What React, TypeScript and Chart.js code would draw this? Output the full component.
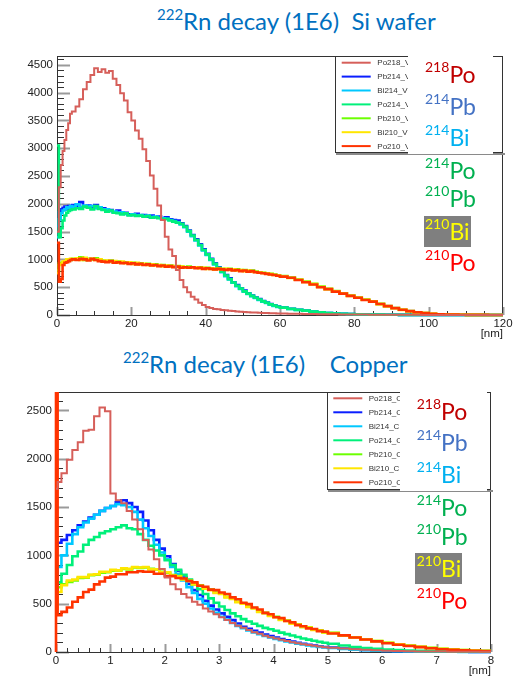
import React, { useEffect, useRef } from "react";
import { Chart, registerables } from "chart.js";
Chart.register(...registerables);

// ---------- Si wafer (top) : bin edges in nm ----------
const wX = [0,0.5,1,1.5,2,2.5,3,3.5,4,
  5,6,7,8,9,10,11,12,13,14,15,16,17,18,19,20,21,22,23,24,25,26,27,28,29,30,31,32,33,34,35,36,37,38,39,40,41,42,43,44,45,46,47,48,49,50,51,52,53,54,55,56,57,58,59,60,
  62,64,66,68,70,72,74,76,78,80,82,84,86,88,90,92,94,96,98,100,102,104,106,108,110,112,114,116,118,120];

const wPo218 = [1500,2300,2700,2950,3150,3330,3450,3620,3660,
  3750,3880,4060,4190,4320,4440,4370,4420,4360,4390,
  4250,4140,3990,3860,3650,3500,3320,3170,2980,2770,
  2510,2270,1970,1710,1410,1180,1060,810,630,500,
  410,330,280,220,180,145,128,110,102,90,
  86,76,71,63,59,52,50,45,44,39,
  38,34,33,30,29,27,
  24,22,19,17,15,13,12,10,9,8,7,6,5,5,4,4,3,3,2,2,2,1,1,1,1,1,1,0,0,0];
const wPb214 = [1600,1850,1900,1930,1950,1900,1960,1940,1980,
  1960,2030,1950,1970,1940,1980,1930,1920,1880,1890,
  1850,1880,1830,1840,1810,1800,1820,1790,1800,1770,
  1790,1760,1770,1740,1760,1720,1710,1700,1650,1600,
  1520,1440,1360,1270,1180,1100,1010,930,860,790,
  720,660,590,540,480,440,390,350,315,285,
  250,225,195,175,150,135,
  112,95,80,62,46,36,28,22,17,13,10,8,6,5,4,3,3,2,2,1,1,1,1,1,0,0,0,0,0,0];
const wBi214 = [1400,1720,1830,1880,1900,1940,1920,1960,1950,
  1990,1940,1970,1950,1960,1920,1940,1900,1900,1870,
  1860,1840,1850,1820,1800,1810,1790,1800,1780,1790,
  1760,1770,1750,1740,1730,1710,1690,1670,1630,1580,
  1500,1420,1340,1250,1160,1080,990,910,840,770,
  700,640,580,520,470,420,380,340,305,270,
  240,215,190,165,145,130,
  108,90,76,60,45,35,27,21,16,12,9,7,6,5,4,3,2,2,1,1,1,1,1,0,0,0,0,0,0,0];
const wPo214 = [3050,1400,1560,1700,1790,1840,1870,1890,1900,
  1920,1910,1950,1930,1900,1960,1910,1890,1860,1880,
  1840,1830,1810,1830,1790,1800,1780,1790,1770,1780,
  1750,1760,1740,1720,1730,1700,1680,1660,1640,1590,
  1510,1430,1350,1260,1170,1090,1000,920,850,780,
  710,645,585,525,475,425,385,345,310,280,
  245,220,192,170,148,132,
  110,92,78,61,47,36,28,21,16,12,9,7,6,5,4,3,3,2,2,1,1,1,1,1,0,0,0,0,0,0];
const wPb210 = [800,930,940,950,960,980,1000,990,1010,
  1000,1040,990,1010,1000,1020,990,980,960,980,
  950,960,940,950,930,940,920,930,910,920,
  900,910,890,900,880,890,870,880,870,860,
  870,860,850,860,840,850,840,830,840,830,
  820,830,810,820,800,810,790,800,780,770,
  760,750,740,730,715,700,
  675,640,600,560,510,470,430,390,350,315,280,245,200,160,125,95,70,50,35,22,14,9,6,4,3,2,2,1,1,1];
const wBi210 = [750,900,920,960,970,1000,990,1010,1000,
  1020,990,1030,1000,1010,990,1000,970,980,960,
  970,940,960,930,950,920,940,910,920,900,
  910,890,900,880,890,870,880,860,870,850,
  860,850,860,840,850,830,840,820,830,820,
  830,810,820,800,810,790,800,780,775,765,
  755,745,735,720,710,695,
  665,635,595,555,505,465,425,385,345,310,275,240,195,158,122,92,68,48,33,21,13,8,6,4,3,2,1,1,1,1];
const wPo210 = [1300,600,650,900,940,950,970,990,1000,
  990,1010,1000,980,1010,990,970,960,950,970,
  940,950,930,940,920,930,910,920,900,910,
  890,900,880,890,870,880,860,870,850,860,
  850,860,840,850,830,840,830,820,830,820,
  810,820,800,810,790,800,780,790,770,760,
  750,740,730,720,705,690,
  670,630,590,550,500,465,420,385,345,310,270,240,198,160,124,94,69,49,34,22,14,9,6,4,3,2,2,1,1,1];

// ---------- Copper (bottom) : bin edges in nm ----------
const cuX = [0,0.03,
  0.1,0.2,0.3,0.4,0.5,0.6,0.7,0.8,0.9,1,
  1.1,1.2,1.3,1.4,1.5,1.6,1.7,1.8,1.9,2,
  2.1,2.2,2.3,2.4,2.5,2.6,2.7,2.8,2.9,3,
  3.1,3.2,3.3,3.4,3.5,3.6,3.7,3.8,3.9,4,
  4.1,4.2,4.3,4.4,4.5,4.6,4.7,4.8,4.9,5,
  5.2,5.4,5.6,5.8,6,6.2,6.4,6.6,6.8,7,7.2,7.4,7.6,7.8,8];

const cPo218 = [1690,1760,
  1850,1990,2090,2170,2290,2300,2440,2530,2490,1640,
  1570,1540,1460,1370,1270,1160,1060,960,860,770,
  700,650,600,565,520,490,450,420,390,360,
  330,300,272,250,228,205,188,168,152,140,
  126,114,101,91,81,72,64,57,50,45,
  36,28,22,17,13,10,8,6,5,4,3,3,2,2,1];
const cPb214 = [1100,1130,
  1160,1210,1260,1310,1350,1390,1420,1460,1490,1510,
  1550,1570,1540,1500,1450,1360,1260,1160,1070,990,
  910,840,770,705,640,590,530,480,440,400,
  365,330,295,262,240,220,200,180,165,150,
  135,120,108,96,85,75,66,58,51,45,
  35,27,21,16,12,9,7,5,4,3,2,2,1,1,1];
const cBi214 = [750,880,
  1000,1120,1220,1290,1340,1380,1420,1460,1490,1510,
  1530,1520,1500,1450,1370,1280,1200,1110,1030,960,
  880,810,740,670,610,550,500,450,405,365,
  335,300,270,245,222,202,183,165,150,136,
  122,110,98,87,77,68,60,53,47,41,
  31,23,18,14,10,7,5,4,3,2,2,1,1,1,1];
const cPo214 = [650,720,
  810,900,990,1040,1110,1160,1190,1230,1250,1270,
  1290,1310,1280,1270,1220,1160,1100,1050,1000,950,
  900,850,800,750,700,650,600,555,510,470,
  435,400,370,340,315,292,270,250,235,220,
  200,185,170,155,140,128,116,105,95,86,
  68,52,40,32,26,20,15,12,9,7,5,4,3,2,2];
const cPb210 = [640,670,
  700,725,740,765,770,795,800,820,825,840,
  840,860,855,875,870,875,860,855,830,820,
  795,785,755,740,705,690,660,645,615,605,
  570,555,520,505,470,455,420,405,375,365,
  335,325,295,287,260,255,230,225,203,198,
  172,152,132,114,96,80,66,54,43,34,27,21,16,12,9];
const cBi210 = [450,620,
  690,740,750,775,775,800,805,830,830,850,
  845,865,860,880,875,880,855,855,825,825,
  790,780,750,735,700,685,655,640,610,600,
  565,550,515,500,465,450,415,402,372,360,
  332,322,292,284,258,252,228,222,201,196,
  170,150,130,112,95,79,65,53,42,33,26,20,15,11,8];
const cPo210 = [6000,380,
  415,460,520,565,620,645,700,730,770,780,
  805,805,825,825,835,830,830,810,810,785,
  785,765,760,735,720,685,675,645,640,615,
  600,565,545,510,495,460,440,405,390,360,
  350,320,307,278,266,244,238,216,211,191,
  172,150,130,110,90,75,62,50,39,28,22,17,13,10,8];

const seriesColors = ["#d65f5a", "#0a1eff", "#00c8ff", "#00f07a", "#6cff00", "#ffe600", "#ff3300"];
const drawOrder = [0, 6, 5, 4, 3, 2, 1];
const waferLabels = ["Po218_V", "Pb214_V", "Bi214_V", "Po214_V", "Pb210_V", "Bi210_V", "Po210_V"];
const copperLabels = ["Po218_C", "Pb214_C", "Bi214_C", "Po214_C", "Pb210_C", "Bi210_C", "Po210_C"];
const waferSeries = [wPo218, wPb214, wBi214, wPo214, wPb210, wBi210, wPo210];
const copperSeries = [cPo218, cPb214, cBi214, cPo214, cPb210, cBi210, cPo210];

const isoLabels = [
  { mass: "218", el: "Po", color: "#c00000" },
  { mass: "214", el: "Pb", color: "#4472c4" },
  { mass: "214", el: "Bi", color: "#00b0f0" },
  { mass: "214", el: "Po", color: "#00b050" },
  { mass: "210", el: "Pb", color: "#00b050" },
  { mass: "210", el: "Bi", color: "#ffff00" },
  { mass: "210", el: "Po", color: "#ff0000" },
];

const AXIS_FONT = '"Liberation Sans", Arial, sans-serif';

const rootFrame = {
  id: "rootFrame",
  beforeDatasetsDraw(chart: any, _a: any, o: any) {
    const { ctx, chartArea: a, scales } = chart;
    const xs = scales.x, ys = scales.y;
    ctx.save();
    const nY = Math.floor(ys.max / o.yMinor + 1e-6);
    for (let i = 0; i <= nY; i++) {
      const v = i * o.yMinor;
      const major = Math.abs(v / o.yMajor - Math.round(v / o.yMajor)) < 1e-6;
      const p = Math.round(ys.getPixelForValue(v)) + 0.5;
      ctx.beginPath();
      ctx.strokeStyle = major ? "#9a9a9a" : "#333";
      ctx.lineWidth = major ? 2 : 1;
      ctx.moveTo(a.left, p);
      ctx.lineTo(a.left + (major ? 13 : 7), p);
      ctx.stroke();
    }
    const nX = Math.round(xs.max / o.xMinor);
    for (let i = 0; i <= nX; i++) {
      const v = i * o.xMinor;
      const major = Math.abs(v / o.xMajor - Math.round(v / o.xMajor)) < 1e-6;
      const p = Math.round(xs.getPixelForValue(v)) + 0.5;
      ctx.beginPath();
      ctx.strokeStyle = major ? "#9a9a9a" : "#333";
      ctx.lineWidth = major ? 2 : 1;
      ctx.moveTo(p, a.bottom);
      ctx.lineTo(p, a.bottom - (major ? 8 : 4));
      ctx.stroke();
    }
    ctx.strokeStyle = "#333";
    ctx.lineWidth = 1;
    ctx.strokeRect(Math.round(a.left) + 0.5, Math.round(a.top) + 0.5, Math.round(a.right - a.left) - 1, Math.round(a.bottom - a.top));
    ctx.restore();
  },
  afterDraw(chart: any) {
    const { ctx, chartArea: a } = chart;
    ctx.save();
    ctx.fillStyle = "#222";
    ctx.font = "11.5px " + AXIS_FONT;
    ctx.textAlign = "right";
    ctx.textBaseline = "top";
    ctx.fillText("[nm]", a.right, a.bottom + 13);
    ctx.restore();
  },
};

const rootLegend = {
  id: "rootLegend",
  afterDatasetsDraw(chart: any, _a: any, o: any) {
    const { ctx, chartArea: a } = chart;
    const L = Math.round(a.right - o.width), T = Math.round(a.top), R = Math.round(a.right), B = Math.round(a.top + o.height);
    ctx.save();
    ctx.fillStyle = "#fff";
    ctx.fillRect(L, T, R - L, B - T);
    ctx.strokeStyle = "#333";
    ctx.lineWidth = 1;
    ctx.strokeRect(L + 0.5, T + 0.5, R - L - 1, B - T);
    ctx.fillStyle = "#8a8a8a";
    ctx.fillRect(L + 1, B + 1, R - L + 1, 2);
    ctx.font = "8px " + AXIS_FONT;
    ctx.textBaseline = "middle";
    ctx.textAlign = "left";
    chart.data.datasets.forEach((ds: any, i: number) => {
      const y = T + o.first + i * o.step;
      ctx.beginPath();
      ctx.strokeStyle = ds.borderColor;
      ctx.lineWidth = 2;
      ctx.moveTo(L + o.lineStart, y);
      ctx.lineTo(L + o.lineEnd, y);
      ctx.stroke();
      ctx.fillStyle = "#333";
      ctx.fillText(ds.label, L + o.textStart, y + 0.5);
    });
    ctx.restore();
  },
};

type HistProps = {
  xs: number[];
  values: number[][];
  labels: string[];
  baseStart: boolean[];
  yMax: number; yMajor: number; yMinor: number;
  xMax: number; xMajor: number; xMinor: number;
  top: number; height: number;
  yWidth: number; pad: { top: number; right: number; bottom: number };
  legend: any;
};

function majorTicks(max: number, step: number) {
  const out: { value: number }[] = [];
  for (let i = 0; i * step <= max + 1e-9; i++) out.push({ value: Math.round(i * step * 1000) / 1000 });
  return out;
}

function Hist(p: HistProps) {
  const ref = useRef<HTMLCanvasElement | null>(null);
  useEffect(() => {
    if (!ref.current) return;
    const datasets = p.values.map((vals, i) => {
      const pts = p.xs.map((x, k) => ({ x, y: vals[k] }));
      if (p.baseStart[i]) pts.unshift({ x: p.xs[0], y: 0 });
      return {
        label: p.labels[i],
        data: pts,
        borderColor: seriesColors[i],
        borderWidth: i === 0 ? 2 : 2.6,
        pointRadius: 0,
        stepped: true,
        fill: false,
        order: drawOrder[i],
        borderCapStyle: "butt",
        borderJoinStyle: "miter",
        clip: { left: 2, top: 0, right: 0, bottom: 2 },
      };
    });
    const chart = new Chart(ref.current, {
      type: "line",
      data: { datasets } as any,
      plugins: [rootFrame, rootLegend],
      options: {
        animation: false,
        responsive: false,
        devicePixelRatio: 1,
        layout: { padding: { left: 0, top: p.pad.top, right: p.pad.right, bottom: p.pad.bottom } },
        plugins: {
          legend: { display: false },
          tooltip: { enabled: false },
          rootFrame: { yMajor: p.yMajor, yMinor: p.yMinor, xMajor: p.xMajor, xMinor: p.xMinor },
          rootLegend: p.legend,
        } as any,
        scales: {
          x: {
            type: "linear",
            min: 0,
            max: p.xMax,
            grid: { display: false, drawTicks: false },
            border: { display: false },
            afterFit: (s: any) => { s.height = 20; },
            afterBuildTicks: (s: any) => { s.ticks = majorTicks(p.xMax, p.xMajor); },
            ticks: {
              autoSkip: false,
              maxRotation: 0,
              padding: 2,
              color: "#222",
              font: { family: AXIS_FONT, size: 11.5 },
              callback: (v: any) => String(v),
            },
          },
          y: {
            type: "linear",
            min: 0,
            max: p.yMax,
            grid: { display: false, drawTicks: false },
            border: { display: false },
            afterFit: (s: any) => { s.width = p.yWidth; },
            afterBuildTicks: (s: any) => { s.ticks = majorTicks(p.yMax, p.yMajor); },
            ticks: {
              autoSkip: false,
              padding: 4,
              color: "#222",
              font: { family: AXIS_FONT, size: 11.5 },
              callback: (v: any) => String(v),
            },
          },
        },
      } as any,
    });
    return () => chart.destroy();
  }, []);
  return (
    <canvas
      ref={ref}
      width={515}
      height={p.height}
      style={{ position: "absolute", left: 0, top: p.top, width: 515, height: p.height }}
    />
  );
}

const TITLE_FONT = 'Lato, "Open Sans", sans-serif';

function Title({ left, top, text }: { left: number; top: number; text: string }) {
  return (
    <div style={{ position: "absolute", left, top, fontFamily: TITLE_FONT, fontSize: 24, lineHeight: "24px", color: "#0070c0", whiteSpace: "pre" }}>
      <span style={{ fontSize: 15, position: "relative", top: -10 }}>222</span>
      {text}
    </div>
  );
}

function IsoColumn({ left, tops, boxLeft, boxTop }: { left: number; tops: number[]; boxLeft: number; boxTop: number }) {
  return (
    <>
      <div style={{ position: "absolute", left: boxLeft, top: boxTop, width: 47, height: 31, background: "#7f7f7f" }} />
      {isoLabels.map((l, i) => (
        <div key={i} style={{ position: "absolute", left, top: tops[i], fontFamily: TITLE_FONT, fontSize: 23, lineHeight: "23px", color: l.color, whiteSpace: "pre" }}>
          <span style={{ fontSize: 14, position: "relative", top: -11 }}>{l.mass}</span>
          {l.el}
        </div>
      ))}
    </>
  );
}

export default function App() {
  return (
    <div style={{ position: "fixed", left: 0, top: 0, width: 515, height: 678, background: "#fff", overflow: "hidden" }}>
      <Title left={157} top={9} text={"Rn decay (1E6)  Si wafer"} />
      <Hist
        xs={wX}
        values={waferSeries}
        labels={waferLabels}
        baseStart={[false, false, false, false, false, false, false]}
        yMax={4660} yMajor={500} yMinor={100}
        xMax={120} xMajor={20} xMinor={5}
        top={40} height={300}
        yWidth={57} pad={{ top: 16, right: 12, bottom: 5 }}
        legend={{ width: 168, height: 96, first: 6.7, step: 13.9, lineStart: 6.7, lineEnd: 35.7, textStart: 42.3 }}
      />
      <Title left={123} top={352} text={"Rn decay (1E6)    Copper"} />
      <Hist
        xs={cuX}
        values={copperSeries}
        labels={copperLabels}
        baseStart={[false, false, false, false, false, false, true]}
        yMax={2690} yMajor={500} yMinor={100}
        xMax={8} xMajor={1} xMinor={0.2}
        top={340} height={338}
        yWidth={56} pad={{ top: 52, right: 24, bottom: 6 }}
        legend={{ width: 164, height: 97, first: 6.3, step: 14, lineStart: 6.3, lineEnd: 35.3, textStart: 41.7 }}
      />
      <div style={{ position: "absolute", left: 408, top: 54, width: 85, height: 100, background: "#fff" }} />
      <div style={{ position: "absolute", left: 400, top: 390, width: 87, height: 101, background: "#fff" }} />
      <IsoColumn left={425} tops={[62.6, 94.6, 126.3, 158.9, 186.8, 219.6, 251.3]} boxLeft={424} boxTop={216} />
      <IsoColumn left={416.7} tops={[399.6, 431.3, 462.9, 496.3, 524.6, 556.9, 588.9]} boxLeft={415} boxTop={553} />
    </div>
  );
}
